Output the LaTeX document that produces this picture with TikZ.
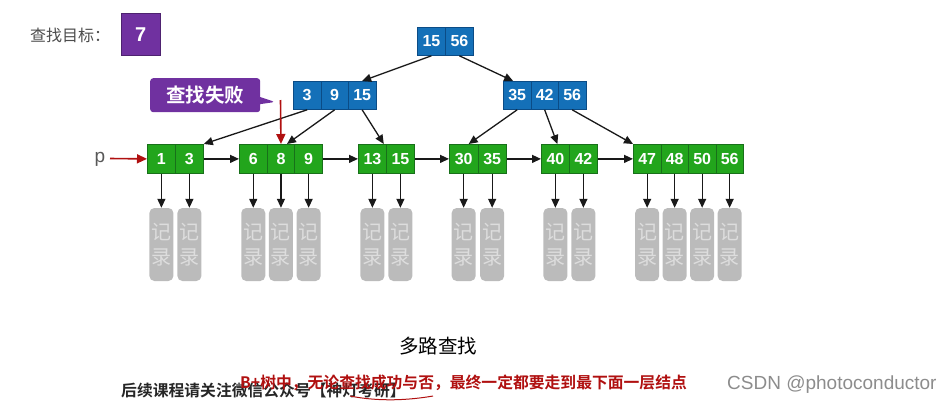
\documentclass[tikz,border=0pt]{standalone}
\usepackage{fontspec}
\setmainfont{Liberation Sans}
\newfontfamily\cjk{Noto Sans CJK SC}
\newfontfamily\cjkb{Noto Sans CJK SC Bold}
\usetikzlibrary{arrows.meta,shapes.callouts}
\definecolor{bfill}{HTML}{1470B8}
\definecolor{bdraw}{HTML}{0B4C86}
\definecolor{gfill}{HTML}{22A51C}
\definecolor{gdraw}{HTML}{18701A}
\definecolor{purp}{HTML}{7031A0}
\definecolor{recfill}{HTML}{BBBBBB}
\definecolor{rectext}{HTML}{DDDDDD}
\definecolor{darkred}{HTML}{B01010}
\tikzset{
  cellb/.style={draw=bdraw, fill=bfill, line width=0.8pt, text=white, font=\bfseries\fontsize{16}{16}\selectfont, minimum height=28pt, inner sep=0pt},
  cellg/.style={draw=gdraw, fill=gfill, line width=0.8pt, text=white, font=\bfseries\fontsize{16}{16}\selectfont, minimum height=29pt, inner sep=0pt},
  rec/.style={fill=recfill, rounded corners=5pt, minimum width=24pt, minimum height=73pt, inner sep=0pt, text=rectext, font=\cjk\fontsize{20}{25}\selectfont, align=center, anchor=north},
  link/.style={-{Triangle[length=9pt,width=8pt]}, line width=1.3pt, black!90},
  redlink/.style={-{Triangle[length=10pt,width=9pt]}, line width=1.6pt, darkred},
}
\newcommand{\keyrow}[6]{%
  \foreach \k [count=\i] in {#6} {
    \node[#5, minimum width=#4pt, anchor=north west] (#1-\i) at ({#2+(\i-1)*#4}, #3) {\k};
  }
}
\newcommand{\recs}[2]{%
  \foreach \i in {1,...,#2} {
    \node[rec] (#1-r\i) at ([yshift=-34pt]#1-\i.south) {记\\录};
    \draw[link] (#1-\i.south) -- (#1-r\i.north);
  }
}
\begin{document}
\begin{tikzpicture}[x=1pt,y=-1pt]
\useasboundingbox (0,0) rectangle (952,405);
% target
\node[anchor=west, text=black!70, font=\cjk\fontsize{16}{16}\selectfont, inner sep=0pt] (tgtlbl) at (30,35) {查找目标：};
\node[fill=purp, draw=purp!70!black, minimum width=39pt, minimum height=42pt, text=white, font=\bfseries\fontsize{20}{20}\selectfont, anchor=north west] (tgt) at (121,13) {7};
% tree
\keyrow{top}{417}{27}{28}{cellb}{15,56}
\keyrow{ma}{293}{81}{27.5}{cellb}{3,9,15}
\keyrow{mb}{503}{81}{27.5}{cellb}{35,42,56}
\keyrow{la}{147}{144}{28}{cellg}{1,3}
\keyrow{lb}{239}{144}{27.7}{cellg}{6,8,9}
\keyrow{lc}{358}{144}{28}{cellg}{13,15}
\keyrow{ld}{449}{144}{28.5}{cellg}{30,35}
\keyrow{le}{541}{144}{28}{cellg}{40,42}
\keyrow{lf}{633}{144}{27.5}{cellg}{47,48,50,56}
\recs{la}{2}
\recs{lb}{3}
\recs{lc}{2}
\recs{ld}{2}
\recs{le}{2}
\recs{lf}{4}
% tree edges
\draw[link] (top-1.south) -- (ma-3.north);
\draw[link] (top-2.south) -- ([xshift=-4pt]mb-1.north);
\draw[link] (ma-1.south) -- (la-2.north east);
\draw[link] (ma-2.south) -- ([xshift=6pt]lb-2.north);
\draw[link] (ma-3.south) -- ([xshift=-3pt]lc-1.north east);
\draw[link] (mb-1.south) -- ([xshift=5pt]ld-1.north);
\draw[link] (mb-2.south) -- ([xshift=2pt]le-1.north);
\draw[link] (mb-3.south) -- (lf-1.north west);
% leaf chain
\draw[link] (la-2.east) -- (lb-1.west);
\draw[link] (lb-3.east) -- (lc-1.west);
\draw[link] (lc-2.east) -- (ld-1.west);
\draw[link] (ld-2.east) -- (le-1.west);
\draw[link] (le-2.east) -- (lf-1.west);
% p pointer
\node[text=black!65, font=\fontsize{19}{19}\selectfont, inner sep=0pt, anchor=base] (p) at (100,162) {p};
\coordinate (pstart) at (110,158.5);
\draw[redlink] (pstart) -- (la-1.west);
% failure callout
\coordinate (failtop) at (280.5,100);
\draw[redlink] (failtop) -- (lb-2.north);
\node[rectangle callout, fill=purp, rounded corners=3pt, minimum width=110pt, minimum height=34pt, text=white, font=\cjkb\fontsize{19.5}{19.5}\selectfont, callout absolute pointer={(275,102)}, anchor=north west] (fail) at (150,78) {查找失败};
% captions
\node[font=\cjk\fontsize{19.5}{19.5}\selectfont, inner sep=0pt] (cap) at (438,346) {多路查找};
\node[anchor=west, font=\cjkb\fontsize{15.8}{15.8}\selectfont, text=black!85, inner sep=0pt] (follow) at (121,390) {后续课程请关注微信公众号【神灯考研】};
\node[anchor=west, font=\cjkb\fontsize{15.8}{15.8}\selectfont, text=darkred, inner sep=0pt] (note) at (240,383) {B+树中，无论查找成功与否，最终一定都要走到最下面一层结点};
\draw[darkred, line width=1pt] (350,396) .. controls (380,402) and (410,400) .. (433,396);
\node[anchor=west, font=\fontsize{19}{19}\selectfont, text=black!45, inner sep=0pt] (csdn) at (727,385) {CSDN @photoconductor};
\end{tikzpicture}
\end{document}
